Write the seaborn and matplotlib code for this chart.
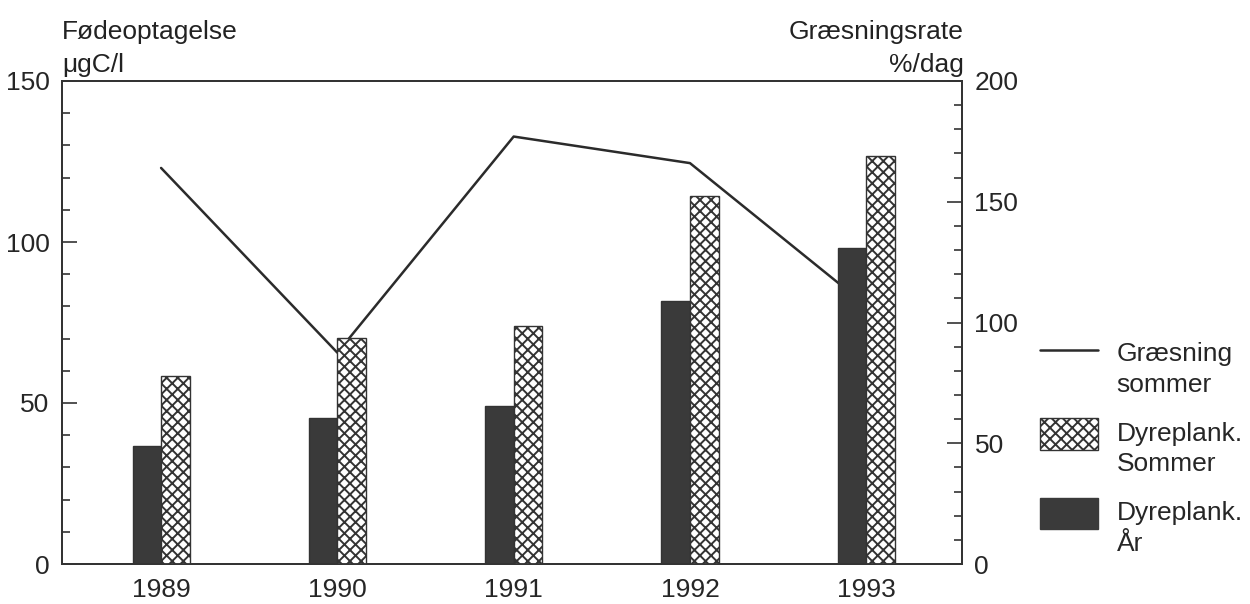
import numpy as np
import pandas as pd
import matplotlib
matplotlib.use("Agg")
import matplotlib.pyplot as plt
from matplotlib.lines import Line2D
from matplotlib.patches import Patch, Rectangle
from matplotlib.legend_handler import HandlerPatch
from matplotlib.ticker import MultipleLocator
import seaborn as sns

# data
years = ['1989', '1990', '1991', '1992', '1993']
dyreplank_aar = [36.8, 45.4, 49.2, 81.7, 98.0]          # µgC/l
dyreplank_sommer = [58.5, 70.3, 74.0, 114.3, 126.8]     # µgC/l
graesning_sommer = [164, 87.5, 177, 166, 107]           # %/dag

sns.set_style("white")
plt.rcParams['font.family'] = ['Liberation Sans', 'DejaVu Sans']
plt.rcParams['hatch.linewidth'] = 1.4
plt.rcParams['hatch.color'] = '#2e2e2e'
FS = 19
dark = '#3a3a3a'
SHIFT = 0.6 * FS  # lift legend handles to the first label line

df = pd.DataFrame({
    'aar': years * 2,
    'vaerdi': dyreplank_aar + dyreplank_sommer,
    'serie': ['År'] * len(years) + ['Sommer'] * len(years),
})

fig = plt.figure(figsize=(12.5, 6.04), dpi=100)
ax = fig.add_axes([62 / 1250, 1 - 564 / 604, 900 / 1250, 483 / 604])
ax2 = ax.twinx()

sns.barplot(data=df, x='aar', y='vaerdi', hue='serie', ax=ax,
            palette={'År': dark, 'Sommer': 'white'},
            width=0.324, gap=0, edgecolor='#333333', linewidth=1.0,
            legend=False, errorbar=None)
for bar in ax.containers[1]:
    bar.set_hatch('xxx')

sns.lineplot(x=np.arange(len(years)), y=graesning_sommer, ax=ax2,
             color='#2b2b2b', linewidth=1.8)

# bars on top of the line
ax.set_zorder(ax2.get_zorder() + 1)
ax.patch.set_visible(False)

ax.set_xlim(-0.562, 4.543)
ax.set_ylim(0, 150)
ax2.set_ylim(0, 200)

ax.yaxis.set_major_locator(MultipleLocator(50))
ax.yaxis.set_minor_locator(MultipleLocator(10))
ax2.yaxis.set_major_locator(MultipleLocator(50))
ax2.yaxis.set_minor_locator(MultipleLocator(10))

ax.tick_params(axis='y', which='major', direction='in', length=11, width=1.2,
               color='#333333', labelsize=FS, pad=9, left=True)
ax.tick_params(axis='y', which='minor', direction='in', length=6, width=1.2,
               color='#333333', left=True)
ax2.tick_params(axis='y', which='major', direction='in', length=11, width=1.2,
                color='#333333', labelsize=FS, pad=9, right=True)
ax2.tick_params(axis='y', which='minor', direction='in', length=6, width=1.2,
                color='#333333', right=True)
ax.tick_params(axis='x', length=0, labelsize=FS, pad=10)

ax.set_xlabel('')
ax.set_ylabel('')
ax2.set_ylabel('')
for a in (ax, ax2):
    for s in a.spines.values():
        s.set_color('#333333')
        s.set_linewidth(1.3)

ax.annotate('Fødeoptagelse\nμgC/l', xy=(0, 1), xycoords='axes fraction',
            xytext=(0, 3), textcoords='offset points', linespacing=1.45,
            ha='left', va='bottom', fontsize=FS, color='#222222')
ax.annotate('Græsningsrate\n%/dag', xy=(1, 1), xycoords='axes fraction',
            xytext=(1, 3), textcoords='offset points', linespacing=1.45,
            ha='right', va='bottom', fontsize=FS, color='#222222',
            multialignment='right')


def box_up(legend, orig_handle, xdescent, ydescent, width, height, fontsize):
    h = 1.2 * fontsize
    yc = -ydescent + height / 2 + SHIFT
    return Rectangle((-xdescent, yc - h / 2), width, h)


def line_up(legend, orig_handle, xdescent, ydescent, width, height, fontsize):
    y = -ydescent + height / 2 + SHIFT + 0.15 * fontsize
    return Line2D([-xdescent, -xdescent + width], [y, y])


h_line = Line2D([], [], color='#2b2b2b', linewidth=1.8)
h_sommer = Patch(facecolor='white', edgecolor='#333333', hatch='xxx')
h_aar = Patch(facecolor=dark, edgecolor=dark)
handles = [h_line, h_sommer, h_aar]
labels = ['Græsning\nsommer', 'Dyreplank.\nSommer', 'Dyreplank.\nÅr']
leg = fig.legend(handles, labels, loc='upper left',
                 bbox_to_anchor=(1040 / 1250, 1 - 342 / 604),
                 bbox_transform=fig.transFigure, frameon=False, fontsize=FS,
                 handlelength=2.2, handleheight=1.2, handletextpad=0.7,
                 labelspacing=0.95, borderpad=0, borderaxespad=0,
                 handler_map={h_line: HandlerPatch(patch_func=line_up),
                              h_sommer: HandlerPatch(patch_func=box_up),
                              h_aar: HandlerPatch(patch_func=box_up)})
for t in leg.get_texts():
    t.set_linespacing(1.35)

fig.savefig('out.png', dpi=100)
